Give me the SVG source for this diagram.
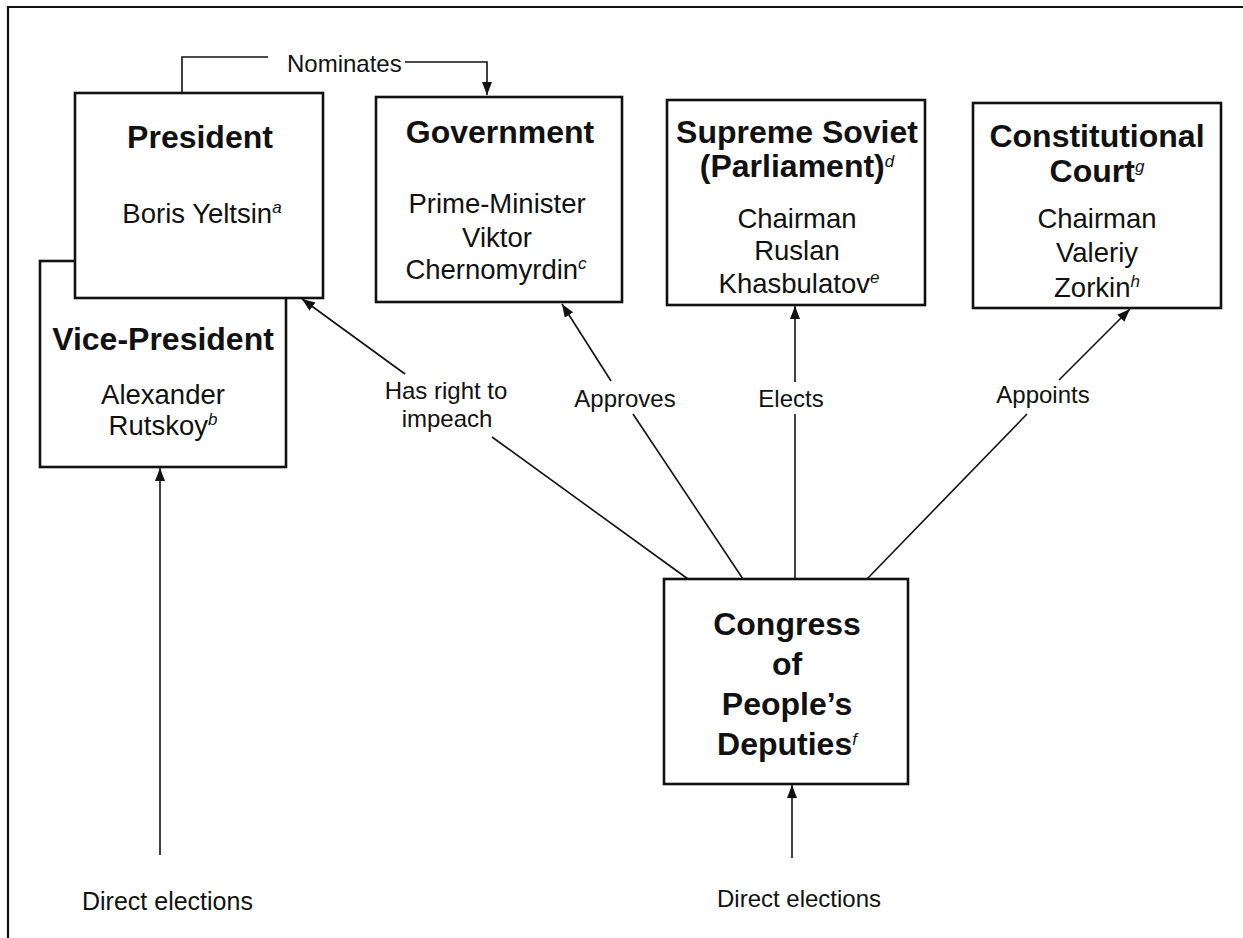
<svg xmlns="http://www.w3.org/2000/svg" width="1243" height="938" viewBox="0 0 1243 938">
<style>
.box{fill:#fff;stroke:#111;stroke-width:2.6}
.frame{fill:none;stroke:#111;stroke-width:2.2}
.con{fill:none;stroke:#111;stroke-width:1.6}
.title{font-family:"Liberation Sans",Arial,sans-serif;font-weight:bold;font-size:32px;fill:#111;text-anchor:middle}
.body{font-family:"Liberation Sans",Arial,sans-serif;font-size:27.5px;fill:#111;text-anchor:middle}
.lbl{font-family:"Liberation Sans",Arial,sans-serif;font-size:24px;fill:#111;text-anchor:middle}
.sup{font-style:italic;font-weight:normal;font-size:17px}
</style>
<defs>
<marker id="ah" markerUnits="userSpaceOnUse" markerWidth="14" markerHeight="12" refX="13" refY="5" orient="auto">
<path d="M0,0 L13,5 L0,10 z" fill="#111"/>
</marker>
</defs>
<rect width="1243" height="938" fill="#fff"/>
<g id="frame">
<path class="frame" d="M8,938 L8,7 L1243,7"/>
</g>
<g id="vice-president">
<rect class="box" x="40" y="261" width="246" height="206"/>
<text class="title" x="163" y="350">Vice-President</text>
<text class="body" x="163" y="404">Alexander</text>
<text class="body" x="163" y="435">Rutskoy<tspan class="sup" dy="-10">b</tspan></text>
</g>
<g id="president">
<rect class="box" x="75" y="93" width="248" height="205"/>
<text class="title" x="200" y="148">President</text>
<text class="body" x="202" y="223">Boris Yeltsin<tspan class="sup" dy="-10">a</tspan></text>
</g>
<g id="government">
<rect class="box" x="376" y="97" width="246" height="205"/>
<text class="title" x="500" y="143">Government</text>
<text class="body" x="497" y="213">Prime-Minister</text>
<text class="body" x="497" y="247">Viktor</text>
<text class="body" x="496" y="279">Chernomyrdin<tspan class="sup" dy="-10">c</tspan></text>
</g>
<g id="supreme-soviet">
<rect class="box" x="667" y="100" width="258" height="205"/>
<text class="title" x="797" y="143">Supreme Soviet</text>
<text class="title" x="797" y="177">(Parliament)<tspan class="sup" dy="-10">d</tspan></text>
<text class="body" x="797" y="228">Chairman</text>
<text class="body" x="797" y="260">Ruslan</text>
<text class="body" x="799" y="293">Khasbulatov<tspan class="sup" dy="-10">e</tspan></text>
</g>
<g id="constitutional-court">
<rect class="box" x="973" y="103" width="248" height="205"/>
<text class="title" x="1097" y="147">Constitutional</text>
<text class="title" x="1097" y="182">Court<tspan class="sup" dy="-10">g</tspan></text>
<text class="body" x="1097" y="228">Chairman</text>
<text class="body" x="1097" y="262">Valeriy</text>
<text class="body" x="1097" y="297">Zorkin<tspan class="sup" dy="-10">h</tspan></text>
</g>
<g id="congress">
<rect class="box" x="664" y="579" width="244" height="205"/>
<text class="title" x="787" y="635">Congress</text>
<text class="title" x="787" y="675">of</text>
<text class="title" x="787" y="715">People’s</text>
<text class="title" x="787" y="755">Deputies<tspan class="sup" dy="-10">f</tspan></text>
</g>
<g id="connectors">
<path class="con" d="M182,93 L182,57 L268,57"/>
<path class="con" d="M405,62 L487,62 L487,95" marker-end="url(#ah)"/>
<text class="lbl" x="287" y="72" style="text-anchor:start">Nominates</text>

<line class="con" x1="688" y1="579" x2="492" y2="437"/>
<line class="con" x1="405" y1="374" x2="302" y2="299" marker-end="url(#ah)"/>
<text class="lbl" x="446" y="399">Has right to</text>
<text class="lbl" x="447" y="427">impeach</text>

<line class="con" x1="743" y1="579" x2="633" y2="414"/>
<line class="con" x1="611" y1="381" x2="562" y2="304" marker-end="url(#ah)"/>
<text class="lbl" x="625" y="407">Approves</text>

<line class="con" x1="795" y1="579" x2="795" y2="414"/>
<line class="con" x1="795" y1="382" x2="795" y2="306" marker-end="url(#ah)"/>
<text class="lbl" x="791" y="407">Elects</text>

<line class="con" x1="867" y1="579" x2="1027" y2="414"/>
<line class="con" x1="1059" y1="380" x2="1130" y2="309" marker-end="url(#ah)"/>
<text class="lbl" x="1043" y="403">Appoints</text>

<line class="con" x1="160" y1="855" x2="160" y2="468" marker-end="url(#ah)"/>
<text class="lbl" x="82" y="910" style="text-anchor:start;font-size:25px">Direct elections</text>

<line class="con" x1="792" y1="858" x2="792" y2="785" marker-end="url(#ah)"/>
<text class="lbl" x="717" y="907" style="text-anchor:start">Direct elections</text>
</g>
</svg>
